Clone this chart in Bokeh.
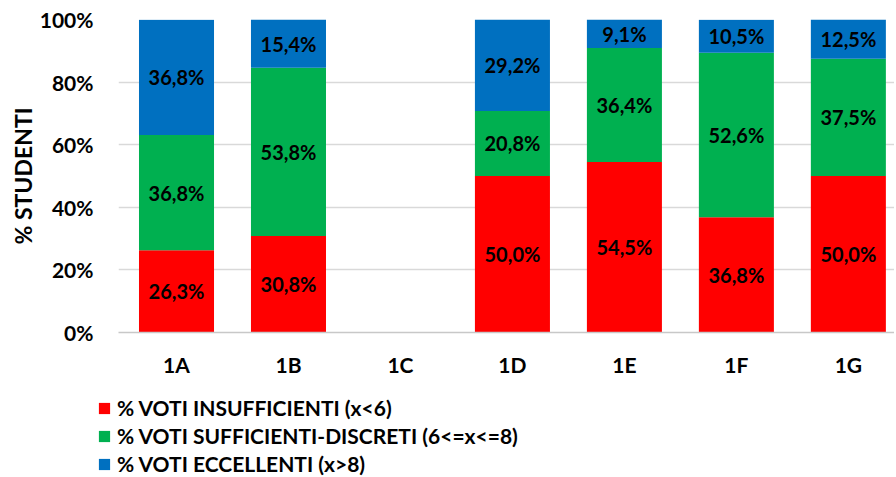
from bokeh.plotting import figure
from bokeh.layouts import column
from bokeh.models import (ColumnDataSource, Range1d, FixedTicker, PrintfTickFormatter,
                          Legend, LegendItem)
from bokeh.core.properties import value
from bokeh.embed import file_html
from bokeh.resources import INLINE

classes = ["1A", "1B", "1C", "1D", "1E", "1F", "1G"]
insufficienti = [26.3, 30.8, 0.0, 50.0, 54.5, 36.8, 50.0]
sufficienti = [36.8, 53.8, 0.0, 20.8, 36.4, 52.6, 37.5]
eccellenti = [36.8, 15.4, 0.0, 29.2, 9.1, 10.5, 12.5]
series_names = ["% VOTI INSUFFICIENTI (x<6)",
                "% VOTI SUFFICIENTI-DISCRETI (6<=x<=8)",
                "% VOTI ECCELLENTI (x>8)"]
y_ticks = [0, 20, 40, 60, 80, 100]

colors = ["#FF0000", "#00B050", "#0070C0"]
FONT = "Lato"

xs = [i + 0.5 for i in range(len(classes))]
src = ColumnDataSource(dict(x=xs, ins=insufficienti, suf=sufficienti, ecc=eccellenti))

p = figure(width=894, height=392, output_backend="svg", toolbar_location=None,
           x_range=Range1d(-0.018, 6.912), y_range=Range1d(0, 100),
           min_border_left=118, min_border_right=0, min_border_top=19,
           min_border_bottom=60)
p.outline_line_color = None

rs = p.vbar_stack(["ins", "suf", "ecc"], x="x", width=0.67, source=src,
                  color=colors, line_color=None)

# value labels
lx, ly, lt = [], [], []
for i, x in enumerate(xs):
    base = 0.0
    for arr in (insufficienti, sufficienti, eccellenti):
        v = arr[i]
        if v > 0:
            lx.append(x)
            ly.append(base + v / 2)
            lt.append(("%.1f%%" % v).replace(".", ","))
        base += v
lsrc = ColumnDataSource(dict(x=lx, y=ly, t=lt))
p.text(x="x", y="y", text="t", source=lsrc, text_align="center",
       text_baseline="middle", text_font=value(FONT), text_font_style="bold",
       text_font_size="20px", text_color="black")

# axes
p.xaxis.ticker = FixedTicker(ticks=xs)
p.xaxis.major_label_overrides = {x: c for x, c in zip(xs, classes)}
p.xaxis.major_tick_line_color = None
p.xaxis.minor_tick_line_color = None
p.xaxis.axis_line_color = "#C8C8C8"
p.xaxis.axis_line_width = 1.5
p.xaxis.major_label_standoff = 13
p.xaxis.major_label_text_font = FONT
p.xaxis.major_label_text_font_style = "bold"
p.xaxis.major_label_text_font_size = "21px"
p.xaxis.major_label_text_color = "black"

p.yaxis.ticker = FixedTicker(ticks=y_ticks)
p.yaxis.formatter = PrintfTickFormatter(format="%d%%")
p.yaxis.major_tick_line_color = None
p.yaxis.minor_tick_line_color = None
p.yaxis.axis_line_color = None
p.yaxis.major_label_standoff = 19
p.yaxis.major_label_text_font = FONT
p.yaxis.major_label_text_font_style = "bold"
p.yaxis.major_label_text_font_size = "21px"
p.yaxis.major_label_text_color = "black"
p.yaxis.axis_label = "% STUDENTI"
p.yaxis.axis_label_text_font = FONT
p.yaxis.axis_label_text_font_style = "bold"
p.yaxis.axis_label_text_font_size = "23px"
p.yaxis.axis_label_text_color = "black"
p.yaxis.axis_label_standoff = 0

p.xgrid.grid_line_color = None
p.ygrid.grid_line_color = "#D9D9D9"
p.ygrid.grid_line_width = 1.5

# legend panel (separate figure below the chart)
lg = figure(width=894, height=84, output_backend="svg", toolbar_location=None,
            x_range=Range1d(0, 1), y_range=Range1d(0, 1),
            min_border_left=0, min_border_right=0, min_border_top=0,
            min_border_bottom=0)
try:
    lg.frame_align = False
except Exception:
    pass
lg.axis.visible = False
lg.grid.visible = False
lg.outline_line_color = None
dummy = []
for c in colors:
    dummy.append(lg.rect(x=[0], y=[0], width=0, height=0, fill_color=c, line_color=None))

legend = Legend(items=[LegendItem(label=n, renderers=[r]) for n, r in zip(series_names, dummy)],
                location=(97, 0), orientation="vertical",
                label_text_font=FONT, label_text_font_style="bold",
                label_text_font_size="21px", label_text_color="black",
                glyph_width=14, glyph_height=14, label_standoff=6,
                label_height=14, spacing=3, padding=0, margin=0,
                border_line_color=None, background_fill_alpha=0)
lg.add_layout(legend, "center")

layout = column(p, lg, spacing=0)
open("out.html", "w").write(file_html(layout, INLINE))
